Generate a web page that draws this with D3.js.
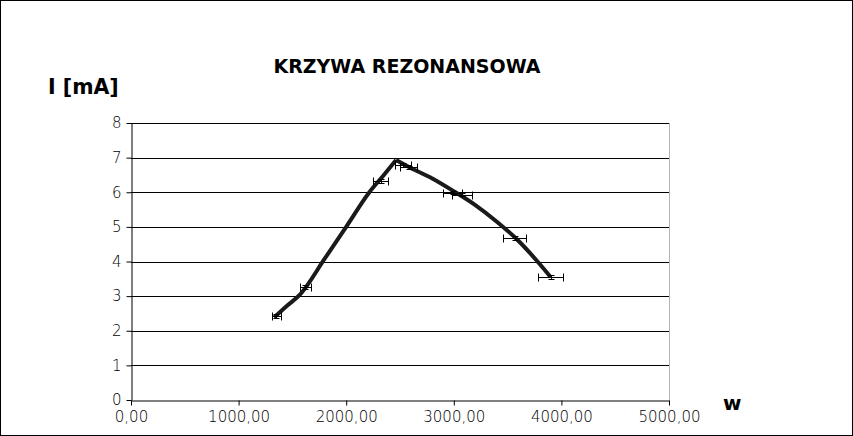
<!DOCTYPE html>
<html><head><meta charset="utf-8">
<script src="https://cdn.jsdelivr.net/npm/d3@7"></script>
<style>body{margin:0;background:#fff}svg{display:block}text{font-family:"DejaVu Sans",sans-serif}</style>
</head><body><svg id="c" width="853" height="436"></svg>
<script>
// measured points (w, I [mA]) with error bars
const measW = [1350, 1620, 2320, 2530, 2580, 2990, 3080, 3565, 3900];
const measI = [2.42, 3.27, 6.33, 6.79, 6.72, 5.99, 5.93, 4.68, 3.55];
const errWFrac = 0.03;   // horizontal error ±3%
const errI = 0.05;       // vertical error
// resonance curve
const riseW = [1330, 1450, 1570, 1800, 2000, 2210, 2350, 2463];
const riseI = [2.38, 2.72, 3.04, 4.08, 5.00, 5.98, 6.50, 6.93];
const fallW = [2463, 2600, 2800, 3000, 3200, 3400, 3600, 3800, 3900];
const fallI = [6.93, 6.70, 6.40, 6.03, 5.63, 5.15, 4.60, 3.92, 3.55];
const xTicks = [0, 1000, 2000, 3000, 4000, 5000];
const yTicks = [0, 1, 2, 3, 4, 5, 6, 7, 8];
const title = "KRZYWA REZONANSOWA";
const yTitle = "I [mA]";
const xTitle = "w";

const svg = d3.select("#c");
svg.append("rect").attr("x",0.5).attr("y",0.5).attr("width",852).attr("height",435)
  .attr("fill","#fff").attr("stroke","#000");

const L=131, R=669, T=123, B=400;
const x = d3.scaleLinear().domain([0,5000]).range([L,R]);
const y = d3.scaleLinear().domain([0,8]).range([B,T]);

// gridlines
svg.append("g").selectAll("line").data(yTicks.filter(d=>d>0)).join("line")
  .attr("x1",L).attr("x2",R).attr("y1",d=>Math.round(y(d))+0.5).attr("y2",d=>Math.round(y(d))+0.5)
  .attr("stroke","#000").attr("stroke-width",1);
// right border
svg.append("line").attr("x1",R+0.5).attr("x2",R+0.5).attr("y1",T).attr("y2",B)
  .attr("stroke","#b3b3b3");

const fmt = d => d3.format(".2f")(d).replace(".", ",");
const xAxis = svg.append("g").attr("transform",`translate(0,${B+0.5})`)
  .call(d3.axisBottom(x).tickValues(xTicks).tickFormat(fmt).tickSizeInner(5).tickSizeOuter(0).tickPadding(6));
const yAxis = svg.append("g").attr("transform",`translate(${L+0.5},0)`)
  .call(d3.axisLeft(y).tickValues(yTicks).tickFormat(d3.format("d")).tickSizeInner(5).tickSizeOuter(0).tickPadding(5));
[xAxis,yAxis].forEach(a=>{
  a.selectAll("path").attr("stroke","#000");
  a.selectAll("line").attr("stroke","#000");
  a.selectAll("text").attr("font-family","DejaVu Sans").attr("font-weight",200).attr("font-size",15).attr("fill","#000");
});

// curve
const line = d3.line().x(d=>x(d[0])).y(d=>y(d[1])).curve(d3.curveMonotoneX);
const rise = riseW.map((w,i)=>[w,riseI[i]]);
const fall = fallW.map((w,i)=>[w,fallI[i]]);
[rise, fall].forEach(seg=>{
  svg.append("path").datum(seg).attr("d",line).attr("fill","none")
    .attr("stroke","#1a1a1a").attr("stroke-width",4).attr("stroke-linejoin","round");
});

// error bars
const eb = svg.append("g").attr("stroke","#000").attr("stroke-width",1).attr("fill","none");
measW.forEach((w,i)=>{
  const cy = Math.round(y(measI[i]))+0.5;
  const x0 = Math.round(x(w*(1-errWFrac)))+0.5, x1 = Math.round(x(w*(1+errWFrac)))+0.5;
  const cx = Math.round(x(w))+0.5;
  eb.append("line").attr("x1",x0).attr("x2",x1).attr("y1",cy).attr("y2",cy);
  eb.append("line").attr("x1",x0).attr("x2",x0).attr("y1",cy-4).attr("y2",cy+4);
  eb.append("line").attr("x1",x1).attr("x2",x1).attr("y1",cy-4).attr("y2",cy+4);
  const y0 = Math.round(y(measI[i]-errI))+0.5, y1 = Math.round(y(measI[i]+errI))+0.5;
  eb.append("line").attr("x1",cx).attr("x2",cx).attr("y1",y0).attr("y2",y1);
  eb.append("line").attr("x1",cx-3).attr("x2",cx+3).attr("y1",y0).attr("y2",y0);
  eb.append("line").attr("x1",cx-3).attr("x2",cx+3).attr("y1",y1).attr("y2",y1);
});

// titles
svg.append("text").attr("x",407).attr("y",73).attr("text-anchor","middle")
  .attr("font-weight","bold").attr("font-size",19).text(title);
svg.append("text").attr("x",48).attr("y",94)
  .attr("font-weight","bold").attr("font-size",20.5).text(yTitle);
svg.append("text").attr("x",723).attr("y",410)
  .attr("font-weight","bold").attr("font-size",20).text(xTitle);
</script></body></html>
